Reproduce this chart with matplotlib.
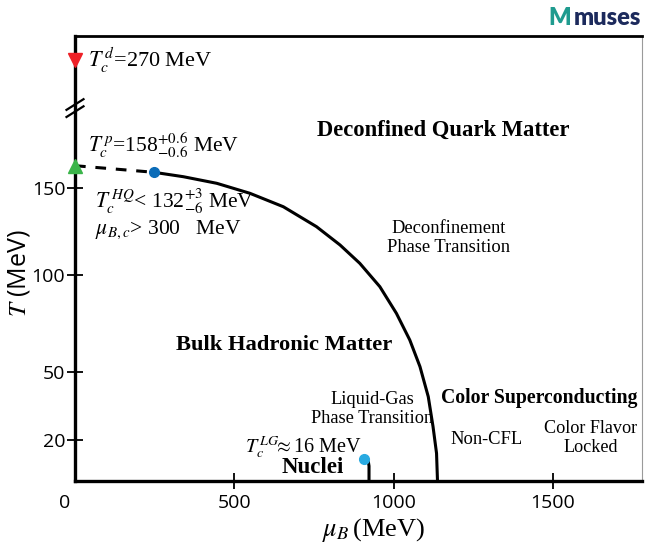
import numpy as np
import matplotlib.pyplot as plt

plt.rcParams['mathtext.fontset'] = 'stix'
serif = 'Liberation Serif'
sans = 'Open Sans'

# schematic phase boundary (mu_B in MeV, T in MeV)
mu_pb = [248, 340, 445, 549, 654, 758, 832, 894, 957, 1009, 1051, 1083, 1109, 1124, 1135, 1138]
T_pb = [155.6, 154.0, 151.6, 146.8, 139.1, 127.7, 117.2, 106.7, 94.0, 80.3, 66.6, 52.9, 39.2, 25.9, 13.5, 0]
# crossover (dashed) from T_c^p to the critical point
mu_xo = [0, 248]
T_xo = [158, 155.6]
# liquid-gas line
mu_lg = [907, 916, 921, 923, 923]
T_lg = [10.7, 10.2, 9.3, 7.3, 0]

# special points
Tc_d = 270
Tc_p = 158
cep = (248, 155.6)
cep_lg = (907, 10.7)

xticks = [500, 1000, 1500]
yticks = [20, 50, 100, 150]

# the original y axis is hand drawn, not linear -> piecewise scale
scale_T = [0, 20, 50, 100, 150, 158, 270, 290]
scale_v = [0, 41, 108.7, 206, 293.3, 315.3, 421, 445]

def fwd(t):
    return np.interp(t, scale_T, scale_v)

def inv(v):
    return np.interp(v, scale_v, scale_T)

fig = plt.figure(figsize=(6.45, 5.5), dpi=100)
ax = fig.add_axes([75/645, 69/550, 567/645, 445/550])
ax.set_yscale('function', functions=(fwd, inv))
ax.set_xlim(0, 1780)
ax.set_ylim(0, 290)

ax.plot(mu_pb, T_pb, color='black', lw=2.2, solid_capstyle='butt', zorder=3)
ax.plot(mu_xo, T_xo, color='black', lw=2.2, ls=(0, (3.5, 3.2)), zorder=3)
ax.plot(mu_lg, T_lg, color='black', lw=2.2, zorder=3)

ax.plot([0], [Tc_d], marker='v', ms=10, color='#ee2027', ls='none', clip_on=False, zorder=5)
ax.plot([0], [Tc_p], marker='^', ms=10, color='#3bb54a', ls='none', clip_on=False, zorder=5)
ax.plot([cep[0]], [cep[1]], marker='o', ms=7, color='#0b6cb8', ls='none', zorder=5)
ax.plot([cep_lg[0]], [cep_lg[1]], marker='o', ms=7, color='#29aae1', ls='none', zorder=5)

# axis break marks
for dy in (-0.008, 0.008):
    ax.plot([-0.015, 0.015], [0.838 + dy - 0.012, 0.838 + dy + 0.012], color='black',
            lw=1.6, transform=ax.transAxes, clip_on=False, zorder=6)

for s in ('left', 'bottom'):
    ax.spines[s].set_linewidth(2.4)
ax.spines['top'].set_linewidth(2.0)
ax.spines['right'].set_linewidth(0.8)
ax.spines['right'].set_color('#9a9a9a')

ax.set_xticks(xticks)
ax.set_yticks(yticks)
ax.set_xticklabels([str(v) for v in xticks], fontfamily=sans, fontsize=14)
ax.set_yticklabels([str(v) for v in yticks], fontfamily=sans, fontsize=14)
ax.tick_params(axis='both', direction='inout', length=12, width=1.3, color='black')
ax.tick_params(axis='y', pad=1)
ax.tick_params(axis='x', pad=3)
ax.minorticks_off()
ax.text(-0.009, -0.03, '0', transform=ax.transAxes, ha='right', va='top',
        fontfamily=sans, fontsize=14)

ax.set_xlabel(r'$\mu_B\,$(MeV)', fontfamily=serif, fontsize=19, va='center')
ax.xaxis.set_label_coords(0.527, -0.11)
ax.set_ylabel(r'$T$ (MeV)', fontfamily=sans, fontsize=18, va='center')
ax.yaxis.set_label_coords(-0.098, 0.467)

# region labels
ax.text(1155, 195.8, 'Deconfined Quark Matter', fontfamily=serif, fontweight='bold',
        fontsize=16.3, ha='center', va='center')
ax.text(1174, 121.2, 'Deconfinement\nPhase Transition', fontfamily=serif, fontsize=13.3,
        ha='center', va='center', linespacing=1.2)
ax.text(657, 64, 'Bulk Hadronic Matter', fontfamily=serif, fontweight='bold',
        fontsize=16.2, ha='center', va='center')
ax.text(932, 33.7, 'Liquid-Gas\nPhase Transition', fontfamily=serif, fontsize=13.2,
        ha='center', va='center', linespacing=1.2)
ax.text(1459, 38.6, 'Color Superconducting', fontfamily=serif, fontweight='bold',
        fontsize=14.2, ha='center', va='center')
ax.text(1293, 20, 'Non-CFL', fontfamily=serif, fontsize=13.3, ha='center', va='center')
ax.text(1619, 20.9, 'Color Flavor\nLocked', fontfamily=serif, fontsize=13.1,
        ha='center', va='center', linespacing=1.2)
ax.text(747, 6.8, 'Nuclei', fontfamily=serif, fontweight='bold', fontsize=16.5,
        ha='center', va='center')

# critical temperatures
ax.text(41, 262.3, r'$T_c^{\,d}$=270 MeV', fontfamily=serif, fontsize=16, va='baseline')
ax.text(41, 172.8, r'$T_c^{\,p}$=158$^{+0.6}_{-0.6}$ MeV', fontfamily=serif, fontsize=15.5,
        va='baseline')
ax.text(63, 138.2, r'$T_c^{\,HQ}$< 132$^{+3}_{-6}$ MeV', fontfamily=serif, fontsize=15.5,
        va='baseline')
ax.text(63, 123.5, r'$\mu_{B,c}$> 300   MeV', fontfamily=serif, fontsize=15.5, va='baseline')
ax.text(533, 13.7, r'$T_c^{\,LG}\!\!\approx$16 MeV', fontfamily=serif, fontsize=14.5,
        va='baseline')

# logo
fig.text(0.868, 0.967, 'M', fontfamily='Lato', fontweight='heavy', fontsize=17,
         color='#1f9b8f', ha='center', va='center')
fig.text(0.89, 0.967, 'muses', fontfamily='Lato', fontweight='heavy', fontsize=17,
         color='#1c2a5c', ha='left', va='center')

fig.savefig('out.png', dpi=100)
